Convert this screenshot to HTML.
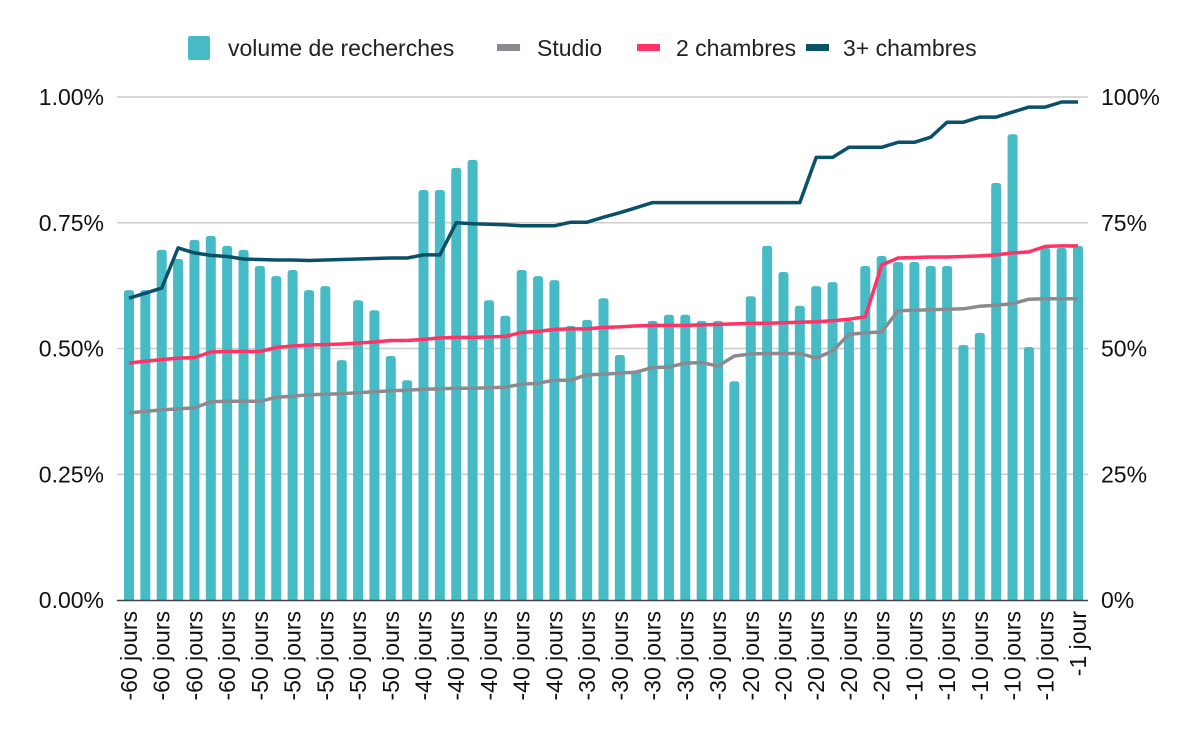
<!DOCTYPE html>
<html><head><meta charset="utf-8"><style>
html,body{margin:0;padding:0;background:#fff;}
svg{display:block;font-family:"Liberation Sans",Arial,sans-serif;}
</style></head><body>
<svg id="chart" width="1200" height="742" viewBox="0 0 1200 742" xmlns="http://www.w3.org/2000/svg">
<g id="legend">
  <g><rect x="188" y="36" width="22" height="24" rx="2" fill="#47bbc5"/><text x="228" y="56" font-size="23" fill="#222">volume de recherches</text></g>
  <g><rect x="497" y="44" width="23" height="7" fill="#8a8b90"/><text x="537" y="56" font-size="23" fill="#222">Studio</text></g>
  <g><rect x="637" y="44" width="23" height="7" fill="#ff3366"/><text x="676" y="56" font-size="23" fill="#222">2 chambres</text></g>
  <g><rect x="806" y="44" width="23" height="7" fill="#0b5069"/><text x="843" y="56" font-size="23" fill="#222">3+ chambres</text></g>
</g>
<g id="grid"></g>
<g id="yleft"></g>
<g id="yright"></g>
<g id="bars"></g>
<line x1="117" y1="600.5" x2="1088" y2="600.5" stroke="#444" stroke-width="1.5"/>
<g id="lines"></g>
<g id="xlabels"></g>
</svg>
<script>
const categories = ["-60 jours","-60 jours","-60 jours","-60 jours","-60 jours","-60 jours","-60 jours","-60 jours","-50 jours","-50 jours","-50 jours","-50 jours","-50 jours","-50 jours","-50 jours","-50 jours","-50 jours","-50 jours","-40 jours","-40 jours","-40 jours","-40 jours","-40 jours","-40 jours","-40 jours","-40 jours","-40 jours","-40 jours","-30 jours","-30 jours","-30 jours","-30 jours","-30 jours","-30 jours","-30 jours","-30 jours","-30 jours","-30 jours","-20 jours","-20 jours","-20 jours","-20 jours","-20 jours","-20 jours","-20 jours","-20 jours","-20 jours","-20 jours","-10 jours","-10 jours","-10 jours","-10 jours","-10 jours","-10 jours","-10 jours","-10 jours","-10 jours","-10 jours","-1  jour"];
const volume = [0.616,0.616,0.696,0.678,0.716,0.724,0.704,0.696,0.664,0.644,0.656,0.616,0.624,0.477,0.596,0.576,0.485,0.437,0.815,0.815,0.859,0.875,0.596,0.565,0.656,0.644,0.636,0.545,0.557,0.600,0.487,0.455,0.555,0.567,0.567,0.555,0.555,0.435,0.604,0.704,0.652,0.585,0.624,0.632,0.555,0.664,0.684,0.672,0.672,0.664,0.664,0.507,0.531,0.829,0.926,0.503,0.700,0.700,0.704];
const studio = [37.2,37.5,37.8,38,38.2,39.4,39.5,39.5,39.5,40.3,40.5,40.8,40.9,41,41.2,41.4,41.6,41.7,41.9,42,42.1,42.1,42.2,42.3,42.9,43.1,43.7,43.7,44.8,44.9,45.1,45.3,46.2,46.3,47.1,47.2,46.5,48.5,48.9,49,49,49,48.1,49.5,52.8,53.1,53.3,57.5,57.6,57.7,57.8,57.9,58.4,58.6,58.9,59.8,59.9,59.9,59.9];
const deuxCh = [47.1,47.5,47.8,48.1,48.2,49.3,49.4,49.4,49.4,50.2,50.5,50.7,50.8,50.9,51.1,51.3,51.6,51.6,51.8,52.1,52.2,52.2,52.3,52.4,53.2,53.4,53.8,53.9,53.9,54.2,54.3,54.5,54.6,54.6,54.6,54.7,54.8,54.9,55,55,55.1,55.2,55.3,55.5,55.8,56.3,66.6,68,68.1,68.2,68.2,68.3,68.4,68.6,69,69.2,70.3,70.4,70.4];
const troisCh = [60,61,62,70,69,68.5,68.3,67.8,67.7,67.6,67.6,67.5,67.6,67.7,67.8,67.9,68,68,68.6,68.6,75,74.8,74.7,74.6,74.4,74.4,74.4,75.1,75.1,76.1,77,78,79,79,79,79,79,79,79,79,79,79,88,88,90,90,90,91,91,92,95,95,96,96,97,98,98,99,99];
const leftTicks = ["0.00%","0.25%","0.50%","0.75%","1.00%"];
const leftTickValues = [0,0.25,0.5,0.75,1];
const rightTicks = ["0%","25%","50%","75%","100%"];

const NS="http://www.w3.org/2000/svg";
const X0=129, X1=1078, Y0=600, Y1=97;
const step=(X1-X0)/(categories.length-1);
function x(i){return X0+i*step;}
function yL(v){return Y0-(v/1)*(Y0-Y1);}
function yR(v){return Y0-(v/100)*(Y0-Y1);}
function mk(tag,attrs,parent){const e=document.createElementNS(NS,tag);for(const k in attrs)e.setAttribute(k,attrs[k]);parent.appendChild(e);return e;}

const grid=document.getElementById('grid'), yl=document.getElementById('yleft'), yr=document.getElementById('yright');
leftTickValues.forEach((v,i)=>{
  const yy=yL(v);
  if(v>0){const g=mk('line',{x1:117,x2:1088,y1:yy,y2:yy,stroke:'#cccccc','stroke-width':1.5},grid);
    
    }
  const t=mk('text',{x:104,y:yy+8,'text-anchor':'end','font-size':23,fill:'#111'},yl);
  t.textContent=leftTicks[i];
  
  
  const r=mk('text',{x:1101,y:yy+8,'font-size':23,fill:'#111'},yr);
  r.textContent=rightTicks[i];
  
  
});

const bars=document.getElementById('bars');
volume.forEach((v,i)=>{
  const top=yL(v), w=10;
  const b=mk('path',{d:`M${x(i)-w/2},${Y0} L${x(i)-w/2},${top+3} Q${x(i)-w/2},${top} ${x(i)-w/2+3},${top} L${x(i)+w/2-3},${top} Q${x(i)+w/2},${top} ${x(i)+w/2},${top+3} L${x(i)+w/2},${Y0} Z`,fill:'#47bbc5'},bars);
  
  
});

const lines=document.getElementById('lines');
[[studio,'#8a8b90','line-studio'],[deuxCh,'#ff3366','line-2-chambres'],[troisCh,'#0b5069','line-3-chambres']].forEach(([arr,col,name])=>{
  const p=mk('polyline',{points:arr.map((v,i)=>x(i).toFixed(1)+','+yR(v).toFixed(1)).join(' '),fill:'none',stroke:col,'stroke-width':3.5,'stroke-linejoin':'round'},lines);
  
  
});

const xl=document.getElementById('xlabels');
categories.forEach((c,i)=>{
  if(i%2!==0)return;
  const xx=x(i)+8, yy=611;
  const t=mk('text',{x:xx,y:yy,transform:`rotate(-90 ${xx} ${yy})`,'text-anchor':'end','font-size':23,fill:'#111','xml:space':'preserve'},xl);
  t.textContent=c;
  
  
});
</script>
</body></html>
